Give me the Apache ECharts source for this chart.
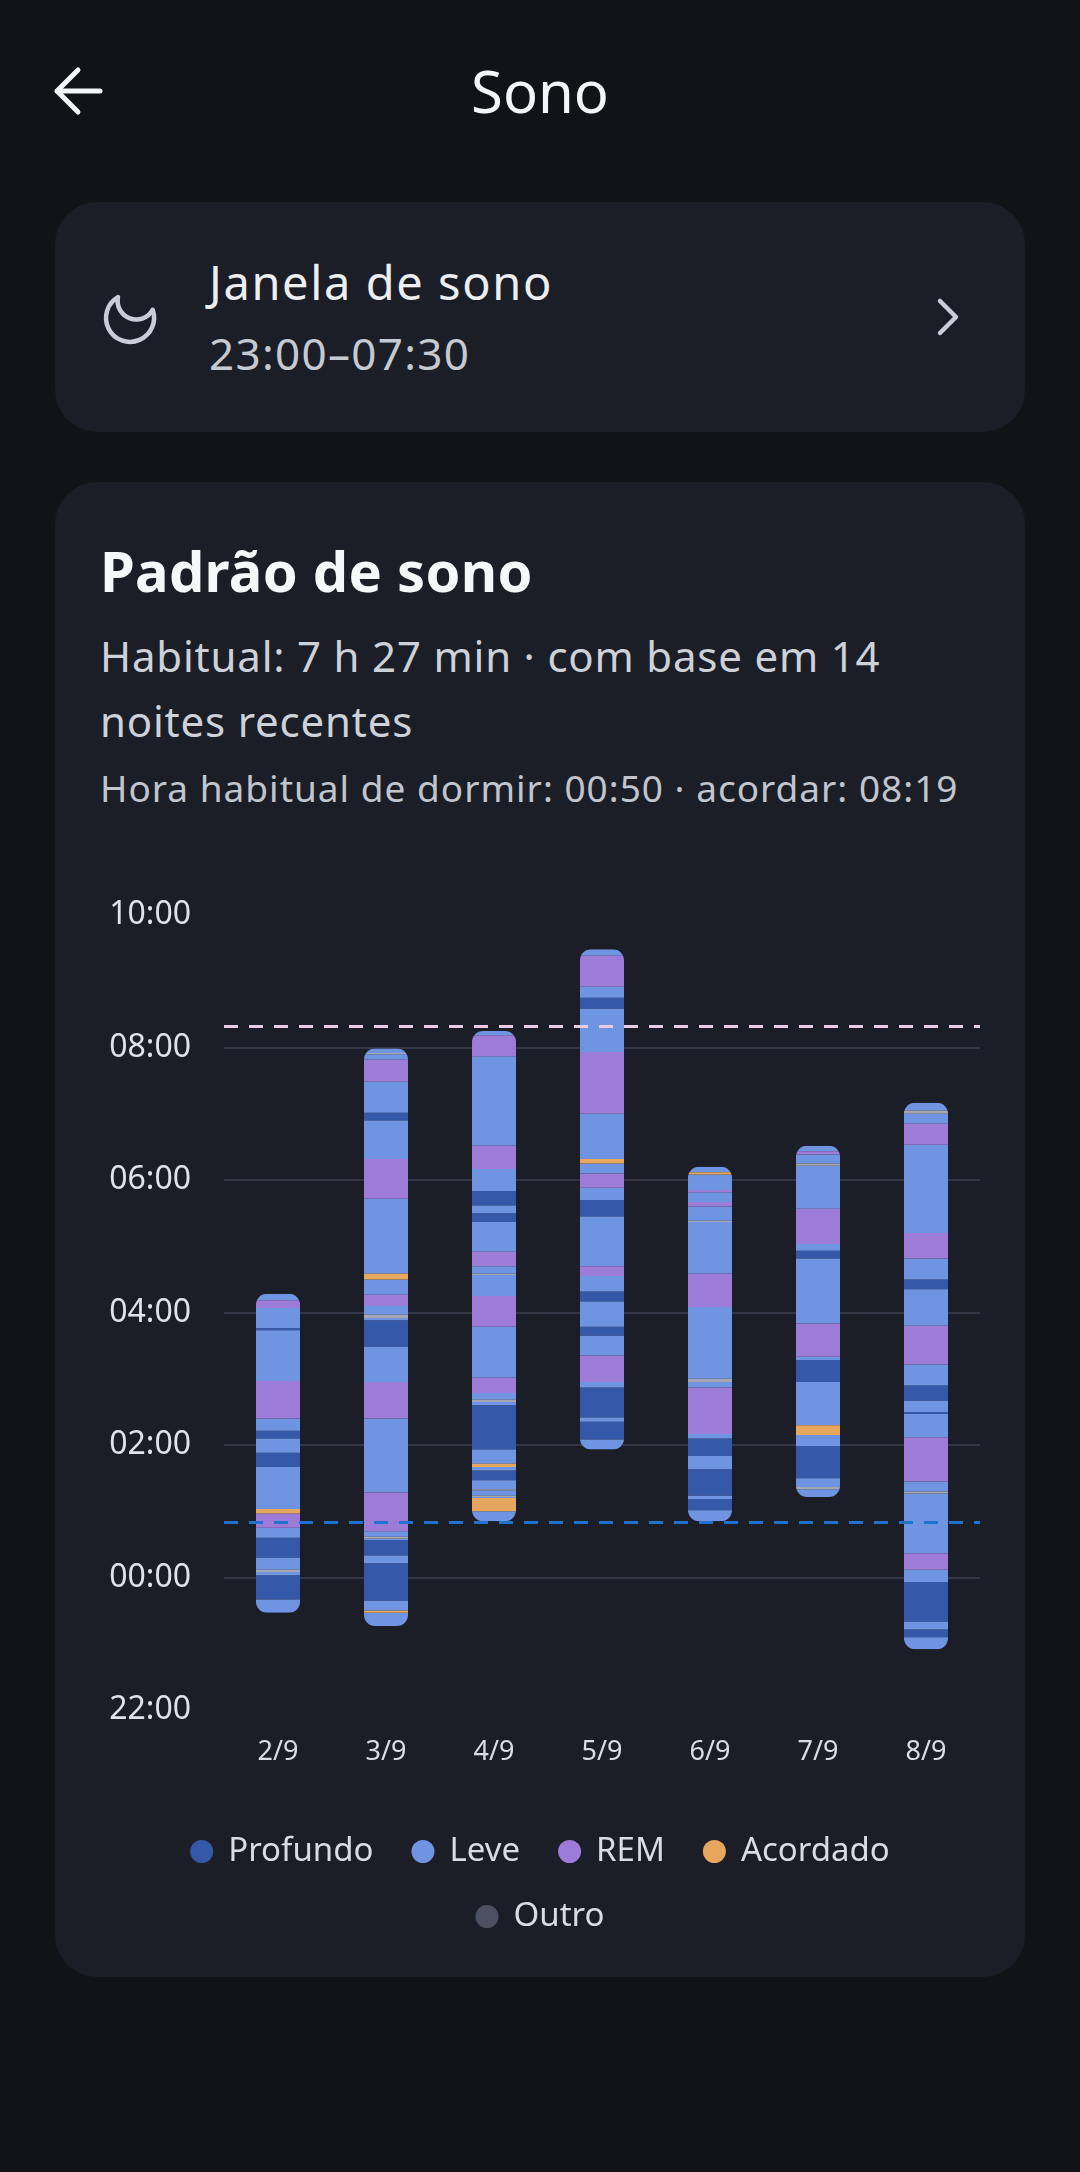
<!DOCTYPE html>
<html>
<head>
<meta charset="utf-8">
<script src="https://cdn.jsdelivr.net/npm/echarts@6/dist/echarts.min.js"></script>
<style>
  html, body { margin: 0; padding: 0; }
  body {
    width: 1080px; height: 2172px; overflow: hidden; position: relative;
    background: #121317; font-family: "Noto Sans", sans-serif;
  }
  .card { position: absolute; left: 55px; width: 970px; background: #1b1e26; border-radius: 42px; }
  .txt { position: absolute; white-space: nowrap; }
  #chart { position: absolute; left: 0; top: 0; width: 1080px; height: 2172px; }
</style>
</head>
<body>

<!-- cabeçalho -->
<svg style="position:absolute;left:40px;top:60px" width="80" height="64" viewBox="40 60 80 64">
  <path d="M100 91 H57 M78 70 L57 91 L78 112" fill="none" stroke="#f4f5f7" stroke-width="5" stroke-linecap="round" stroke-linejoin="round"/>
</svg>
<div class="txt" style="left:0;width:1080px;text-align:center;top:51px;line-height:80px;font-size:58px;color:#f4f5f7;">Sono</div>

<!-- janela de sono -->
<div class="card" style="top:202px;height:230px;"></div>
<svg style="position:absolute;left:98px;top:286px" width="64" height="64" viewBox="0 0 24 24">
  <path transform="rotate(-25 12 12)" d="M21 12.79A9 9 0 1 1 11.21 3 7 7 0 0 0 21 12.79z" fill="none" stroke="#c9cdd7" stroke-width="1.7" stroke-linejoin="round"/>
</svg>
<div class="txt" style="left:209px;top:250px;line-height:64px;font-size:47px;letter-spacing:1.6px;color:#eceef2;">Janela de sono</div>
<div class="txt" style="left:209px;top:321px;line-height:64px;font-size:44px;letter-spacing:1.3px;color:#c5c9d2;">23:00–07:30</div>
<svg style="position:absolute;left:930px;top:295px" width="40" height="44" viewBox="930 295 40 44">
  <path d="M940 301 L956 317 L940 333" fill="none" stroke="#c9cdd7" stroke-width="4.5" stroke-linecap="round" stroke-linejoin="round"/>
</svg>

<!-- padrão de sono -->
<div class="card" style="top:482px;height:1495px;"></div>
<div class="txt" style="left:100px;top:535px;line-height:70px;font-size:56px;font-weight:700;letter-spacing:0.3px;color:#f6f7f9;">Padrão de sono</div>
<div class="txt" style="left:100px;top:623px;line-height:65px;font-size:42px;letter-spacing:0.8px;color:#cdd1d9;">Habitual: 7 h 27 min · com base em 14<br>noites recentes</div>
<div class="txt" style="left:100px;top:760px;line-height:56px;font-size:37px;letter-spacing:1px;color:#c1c5ce;">Hora habitual de dormir: 00:50 · acordar: 08:19</div>

<div id="chart"></div>

<script>
// noites (eixo x)
var days = ['2/9', '3/9', '4/9', '5/9', '6/9', '7/9', '8/9'];

// limites de cada fase em minutos a partir das 00:00 (negativo = antes da meia-noite)
// e a fase de cada intervalo: D = profundo, L = leve, R = REM, A = acordado, O = outro
var t29 = [-32, -20, 2, 5, 7, 18, 36, 45, 58, 62, 100, 113, 126, 133, 144, 178, 224, 226, 244, 251, 257];
var s29 = 'LDLOLDLRALDLDLRLDLRL';
var t39 = [-44, -32, -30, -21, 13, 20, 34, 35, 37, 42, 77, 144, 177, 209, 233, 235, 238, 246, 256, 270, 275, 343, 379, 414, 421, 449, 469, 474, 475, 479];
var s39 = 'LALDLDLOLRLRLDLOLRLALRLDLRLOL';
var t49 = [51, 60, 72, 73, 74, 79, 80, 88, 97, 100, 103, 116, 156, 159, 161, 167, 181, 227, 255, 274, 275, 282, 295, 322, 330, 337, 350, 370, 391, 472, 491, 495];
var s49 = 'LALOLOLDLALDLOLRLRLOLRLDLDLRLRL';
var t59 = [116, 125, 141, 145, 172, 177, 201, 219, 227, 250, 259, 273, 282, 327, 342, 353, 366, 375, 379, 420, 476, 515, 525, 535, 563, 569];
var s59 = 'LDLDLRLDLDLRLDLRLALRLDLRL';
var t69 = [51, 61, 71, 74, 98, 110, 126, 130, 172, 177, 180, 245, 275, 322, 323, 336, 340, 349, 351, 365, 367, 372];
var s69 = 'LDLDLDLRLOLRLOLRLRLAL';
var t79 = [73, 80, 82, 90, 119, 129, 138, 177, 197, 200, 230, 289, 296, 302, 334, 373, 375, 383, 386, 391];
var s79 = 'LOLDLALDLRLDLRLOLRL';
var t89 = [-65, -54, -47, -40, -4, 7, 22, 76, 78, 87, 127, 148, 150, 160, 174, 193, 228, 261, 270, 289, 312, 392, 411, 420, 423, 430];
var s89 = 'LDLDLRLOLRLDLDLRLDLRLRLOL';

var nightBounds = [t29, t39, t49, t59, t69, t79, t89];
var nightStages = [s29, s39, s49, s59, s69, s79, s89];

// hora habitual de dormir / acordar (minutos)
var habitualBed = 50;   // 00:50
var habitualWake = 499; // 08:19

// fases
var stageKeys = ['D', 'L', 'R', 'A', 'O'];
var stageNames = ['Profundo', 'Leve', 'REM', 'Acordado', 'Outro'];
var stageColors = ['#3658a8', '#6f94e2', '#9d7bd8', '#e6a65d', '#a4a7af'];
var legendColors = ['#3658a8', '#6f94e2', '#9d7bd8', '#e6a65d', '#4b5162'];

// montar os dados por fase: [noite, início, fim, início da noite, fim da noite]
var stageData = [[], [], [], [], []];
for (var i = 0; i < days.length; i++) {
    var t = nightBounds[i];
    var s = nightStages[i];
    for (var k = 0; k < s.length; k++) {
        var idx = stageKeys.indexOf(s[k]);
        stageData[idx].push([i, t[k], t[k + 1], t[0], t[t.length - 1]]);
    }
}

var barWidth = 44;

function renderSegment(params, api) {
    var x = api.value(0);
    var p0 = api.coord([x, api.value(1)]);
    var p1 = api.coord([x, api.value(2)]);
    var q0 = api.coord([x, api.value(3)]);
    var q1 = api.coord([x, api.value(4)]);
    var left = p0[0] - barWidth / 2;
    return {
        type: 'rect',
        shape: { x: left, y: p1[1], width: barWidth, height: p0[1] - p1[1] },
        style: { fill: api.visual('color') },
        clipPath: {
            type: 'rect',
            shape: { x: left, y: q1[1], width: barWidth, height: q0[1] - q1[1], r: 11 }
        }
    };
}

function hourLabel(v) {
    var h = Math.round(((v / 60) + 24) % 24);
    return (h < 10 ? '0' : '') + h + ':00';
}

var series = [];
for (var j = 0; j < stageKeys.length; j++) {
    series.push({
        type: 'custom',
        name: stageNames[j],
        itemStyle: { color: stageColors[j] },
        encode: { x: 0, y: [1, 2] },
        renderItem: renderSegment,
        data: stageData[j],
        silent: true
    });
}
// linhas tracejadas: dormir / acordar habitual
series[0].markLine = {
    silent: true,
    symbol: ['none', 'none'],
    label: { show: false },
    animation: false,
    data: [
        { yAxis: habitualWake, lineStyle: { color: '#e9cbe8', type: [14, 11], width: 3 } },
        { yAxis: habitualBed, lineStyle: { color: '#1f73cf', type: [14, 11], width: 3 } }
    ]
};

var chart = echarts.init(document.getElementById('chart'));
var option = {
    animation: false,
    textStyle: { fontFamily: 'Noto Sans' },
    grid: { left: 224, right: 100, top: 915, bottom: 462 },
    legend: [{
        top: 1830,
        left: 'center',
        icon: 'circle',
        itemWidth: 23,
        itemHeight: 23,
        itemGap: 38,
        textStyle: { color: '#d8dce4', fontSize: 33, padding: [0, 0, 0, 10] },
        data: stageNames.slice(0, 4).map(function(n, q) {
            return { name: n, itemStyle: { color: legendColors[q] } };
        })
    }, {
        top: 1895,
        left: 'center',
        icon: 'circle',
        itemWidth: 23,
        itemHeight: 23,
        textStyle: { color: '#d8dce4', fontSize: 33, padding: [0, 0, 0, 10] },
        data: [{ name: 'Outro', itemStyle: { color: legendColors[4] } }]
    }],
    xAxis: {
        type: 'category',
        data: days,
        axisLine: { show: false },
        axisTick: { show: false },
        axisLabel: { color: '#d9dce3', fontSize: 27, margin: 29 }
    },
    yAxis: {
        type: 'value',
        min: -120,
        max: 600,
        interval: 120,
        axisLine: { show: false },
        axisTick: { show: false },
        axisLabel: { color: '#dfe2e8', fontSize: 32, margin: 33, formatter: hourLabel },
        splitLine: {
            show: true,
            showMinLine: false,
            showMaxLine: false,
            lineStyle: { color: '#343844', width: 2 }
        }
    },
    series: series
};
chart.setOption(option);
</script>
</body>
</html>
